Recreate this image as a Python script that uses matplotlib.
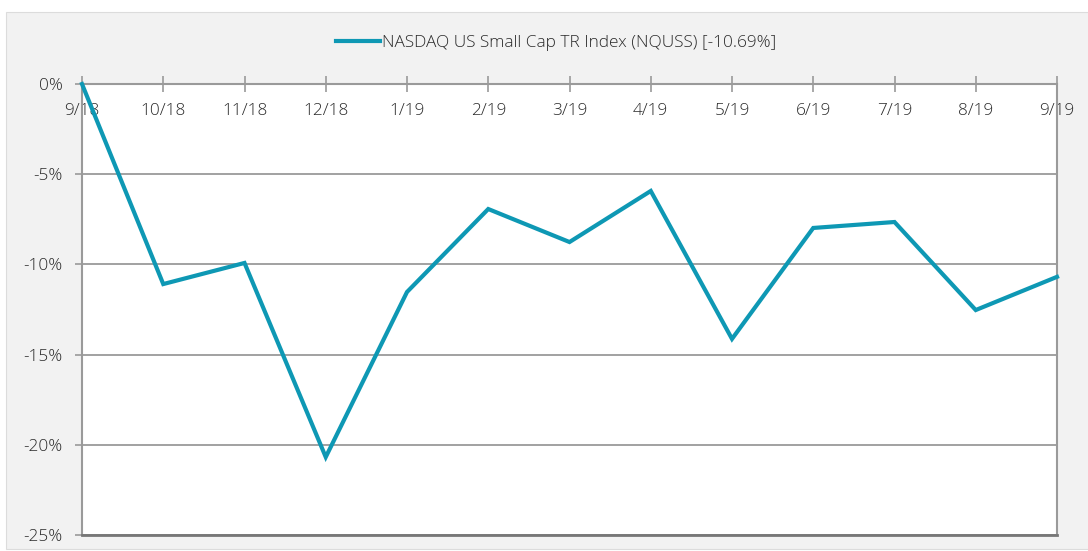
import matplotlib.pyplot as plt
from matplotlib.patches import Rectangle

# monthly cumulative return of the index
months = ["9/18", "10/18", "11/18", "12/18", "1/19", "2/19", "3/19",
          "4/19", "5/19", "6/19", "7/19", "8/19", "9/19"]
returns = [0.0, -11.09, -9.92, -20.68, -11.53, -6.93, -8.76,
           -5.93, -14.13, -7.98, -7.65, -12.53, -10.69]
y_ticks = [0, -5, -10, -15, -20, -25]
series_name = "NASDAQ US Small Cap TR Index (NQUSS) [-10.69%]"

line_color = "#0e98b4"
grid_color = "#9a9a9a"
text_color = "#2a2a2a"

plt.rcParams['font.family'] = ['Open Sans', 'DejaVu Sans']
plt.rcParams['font.weight'] = 'light'

fig = plt.figure(figsize=(10.88, 5.51), dpi=100)
fig.patch.set_facecolor("white")

# grey panel behind the chart
W, H = 1088, 551
fig.patches.append(Rectangle((6 / W, 2 / H), 1, (539 - 2) / H, transform=fig.transFigure,
                             facecolor="#f2f2f2", edgecolor="#dcdcdc", lw=0.8, zorder=-5))

ax = fig.add_axes([82 / W, 16 / H, (1057 - 82) / W, (535 - 84) / H])
ax.set_zorder(2)
ax.set_facecolor("white")

x = list(range(len(months)))
ax.plot(x, returns, color=line_color, lw=3.0, solid_joinstyle="miter",
        clip_on=False, zorder=3, label=series_name)

ax.set_xlim(0, len(months) - 1)
ax.set_ylim(-25, 0)

ax.set_yticks(y_ticks)
ax.set_yticklabels([f"{v}%" for v in y_ticks], fontsize=12.4, color=text_color)
ax.tick_params(axis="y", direction="out", length=5, width=1.2, color=grid_color, pad=9)

ax.set_xticks(x)
ax.set_xticklabels(months, fontsize=12.4, color=text_color)
ax.tick_params(axis="x", top=True, bottom=False, labeltop=True, labelbottom=False,
               direction="inout", length=12, width=1.2, color=grid_color, pad=-31)

ax.yaxis.grid(True, color=grid_color, lw=1.3)
ax.xaxis.grid(False)
ax.set_axisbelow(True)

for side in ["top", "left", "right"]:
    ax.spines[side].set_color(grid_color)
    ax.spines[side].set_linewidth(1.5)
ax.spines["bottom"].set_color("#777777")
ax.spines["bottom"].set_linewidth(2)

fig.legend(loc="center", bbox_to_anchor=(556 / W, 1 - 43 / H), frameon=False,
           fontsize=12.4, handlelength=2.6, handletextpad=0.1, labelcolor=text_color)

plt.savefig("out.png", dpi=100)
